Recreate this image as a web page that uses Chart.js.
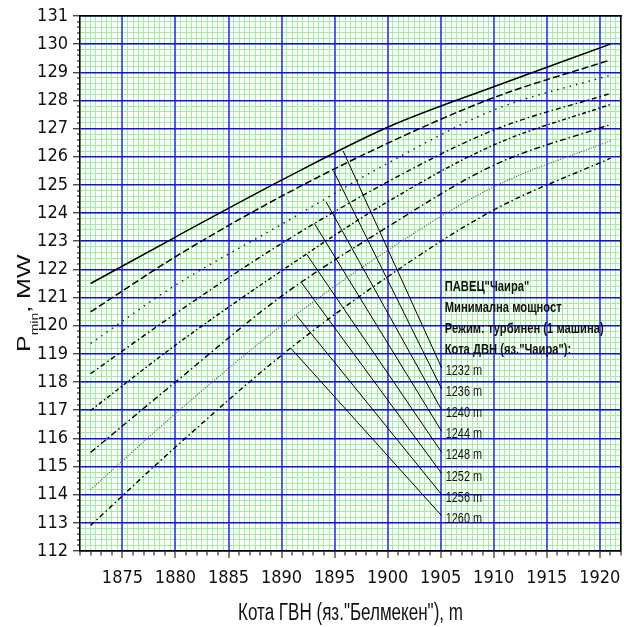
<!DOCTYPE html>
<html>
<head>
<meta charset="utf-8">
<script src="https://cdn.jsdelivr.net/npm/chart.js@4.4.1/dist/chart.umd.min.js"></script>
<style>
  body { margin: 0; background: #fff; }
  canvas { display: block; }
</style>
</head>
<body>
<canvas id="chart" width="624" height="627"></canvas>
<script>
// Кота ГВН (Белмекен), m - where the curves were read
const headX = [1872, 1880, 1890, 1900, 1910, 1921];

// P min, MW for each level of ДВН (Чаира)
const p1232 = [121.5, 123.15, 125.17, 127.05, 128.49, 130.0];
const p1236 = [120.49, 122.45, 124.6, 126.48, 128.1, 129.44];
const p1240 = [119.37, 121.44, 123.6, 125.77, 127.66, 128.9];
const p1244 = [118.3, 120.43, 122.92, 125.11, 126.95, 128.25];
const p1248 = [116.99, 119.31, 121.95, 124.4, 126.42, 127.86];
const p1252 = [115.5, 118.0, 121.05, 123.51, 125.7, 127.15];
const p1256 = [114.18, 116.88, 120.0, 122.68, 124.93, 126.57];
const p1260 = [112.91, 115.69, 118.95, 121.74, 124.11, 125.95];

const levels = [1232, 1236, 1240, 1244, 1248, 1252, 1256, 1260];
const series = [p1232, p1236, p1240, p1244, p1248, p1252, p1256, p1260];

// leader lines from each curve down to its label
const leaderFromX = [1895.8, 1894.9, 1894.2, 1893.1, 1892.4, 1891.9, 1891.4, 1890.9];
const leaderFromY = [126.21, 125.5, 124.4, 123.63, 122.52, 121.52, 120.37, 119.19];
const leaderToX = 1905.1;
const leaderToY = [118.5, 117.75, 117.0, 116.25, 115.5, 114.75, 114.0, 113.25];

const infoLines = ['ПАВЕЦ"Чаира"', 'Минимална мощност', 'Режим: турбинен (1 машина)', 'Кота ДВН (яз."Чаира"):'];
const xTitle = 'Кота ГВН (яз."Белмекен"), m';

// line look per curve
const dashes = [[], [7, 3], [1.5, 5], [5, 3, 1.5, 3], [4, 2.5, 1.5, 2.5], [6, 3, 1.5, 3], [1, 1.5], [5, 3, 1.5, 3]];
const colors = ['#000', '#000', '#222', '#000', '#000', '#000', '#555', '#000'];
const widths = [1.5, 1.5, 1.5, 1.4, 1.4, 1.4, 1.2, 1.4];

const narrow = '"Liberation Sans Narrow", "Arial Narrow", "DejaVu Sans Condensed", sans-serif';
const sans = '"Liberation Sans", Arial, sans-serif';

const isWhole = v => Math.abs(v - Math.round(v)) < 1e-6;
const isFive = v => isWhole(v / 5);

const datasets = [];
series.forEach((s, i) => {
  datasets.push({
    data: headX.map((x, j) => ({ x: x, y: s[j] })),
    borderColor: colors[i],
    borderWidth: widths[i],
    borderDash: dashes[i],
    cubicInterpolationMode: 'monotone',
    pointRadius: 0,
    fill: false
  });
});
levels.forEach((lv, i) => {
  datasets.push({
    data: [{ x: leaderFromX[i], y: leaderFromY[i] }, { x: leaderToX, y: leaderToY[i] }],
    borderColor: '#000',
    borderWidth: 1,
    pointRadius: 0,
    fill: false
  });
});

// squeezed text helper
function squeezed(ctx, text, x, y, sx, sy) {
  ctx.save();
  ctx.translate(x, y);
  ctx.scale(sx, sy);
  ctx.fillText(text, 0, 0);
  ctx.restore();
}

// axis titles and the text block are drawn on top
const textPlugin = {
  id: 'texts',
  afterDraw(chart) {
    const ctx = chart.ctx;
    const xs = chart.scales.x, ys = chart.scales.y;
    ctx.save();
    ctx.fillStyle = '#111';
    ctx.textBaseline = 'alphabetic';

    const px = xs.getPixelForValue(leaderToX) + 4;
    ctx.font = '14px ' + sans;
    levels.forEach((lv, i) => {
      squeezed(ctx, lv + ' m', px, ys.getPixelForValue(leaderToY[i]) + 7, 0.78, 1);
    });

    ctx.font = 'bold 14px ' + sans;
    const base0 = ys.getPixelForValue(leaderToY[0]) + 7;
    infoLines.forEach((t, i) => {
      squeezed(ctx, t, px - 1, base0 - (infoLines.length - i) * 21, 0.8, 1);
    });

    // x axis title
    ctx.font = '23px ' + sans;
    ctx.textAlign = 'center';
    squeezed(ctx, xTitle, (chart.chartArea.left + chart.chartArea.right) / 2, 620, 0.74, 1);

    // y axis title: P with subscript min
    ctx.textAlign = 'left';
    ctx.save();
    ctx.translate(30, 352);
    ctx.rotate(-Math.PI / 2);
    ctx.scale(1, 0.76);
    ctx.font = '25px ' + sans;
    ctx.fillText('P', 0, 0);
    let w = ctx.measureText('P').width;
    ctx.font = '14px ' + sans;
    ctx.fillText('min', w, 10);
    w += ctx.measureText('min').width;
    ctx.font = '25px ' + sans;
    ctx.fillText(', MW', w, 0);
    ctx.restore();

    ctx.restore();
  }
};

const tickFont = { family: narrow, size: 18 };
const minorGrid = { color: 'rgb(160,238,160)', lineWidth: 1, borderDash: [1, 2], drawTicks: false, z: -1 };

new Chart(document.getElementById('chart'), {
  type: 'line',
  data: { datasets: datasets },
  plugins: [textPlugin],
  options: {
    responsive: false,
    animation: false,
    events: [],
    layout: { padding: { left: 0, top: 16, right: 3, bottom: 0 } },
    plugins: { legend: { display: false }, tooltip: { enabled: false } },
    scales: {
      xg: {
        type: 'linear', position: 'bottom', min: 1871, max: 1922,
        border: { display: false },
        grid: minorGrid,
        ticks: { display: false, stepSize: 0.5 }
      },
      yg: {
        type: 'linear', position: 'left', min: 112, max: 131,
        border: { display: false },
        grid: minorGrid,
        ticks: { display: false, stepSize: 0.2 }
      },
      x: {
        type: 'linear', position: 'bottom', min: 1871, max: 1922,
        afterFit: s => { s.height = 76; s.paddingLeft = 0; s.paddingRight = 0; },
        border: { color: '#000', width: 1.5 },
        grid: {
          color: c => isFive(c.tick.value) ? 'rgba(60,60,255,0.85)' : 'rgba(0,0,0,0)',
          lineWidth: c => isFive(c.tick.value) ? 2 : 0,
          tickColor: '#000', tickWidth: 1, tickLength: 7,
          tickBorderDash: c => isFive(c.tick.value) ? [] : [4, 100]
        },
        ticks: {
          stepSize: 1, autoSkip: false, maxRotation: 0, padding: 10,
          color: '#111', font: tickFont,
          callback: v => isFive(v) ? String(v) : ''
        }
      },
      y: {
        type: 'linear', position: 'left', min: 112, max: 131,
        afterFit: s => { s.width = 80; },
        border: { color: '#000', width: 1.5 },
        grid: {
          color: c => isWhole(c.tick.value) ? '#1010e8' : 'rgba(0,0,0,0)',
          lineWidth: c => isWhole(c.tick.value) ? 1.6 : 0,
          tickColor: '#000', tickWidth: 1, tickLength: 7,
          tickBorderDash: c => isWhole(c.tick.value) ? [] : [0, 4, 3, 100]
        },
        ticks: {
          stepSize: 0.2, autoSkip: false, padding: 5,
          color: '#111', font: tickFont,
          callback: v => isWhole(v) ? String(Math.round(v)) : ''
        }
      },
      xt: {
        type: 'linear', position: 'top', min: 1871, max: 1922,
        border: { color: '#000', width: 1.5 },
        grid: { drawOnChartArea: false, drawTicks: false },
        ticks: { display: false }
      },
      yr: {
        type: 'linear', position: 'right', min: 112, max: 131,
        afterFit: s => { s.width = 0; },
        border: { color: '#000', width: 1.5 },
        grid: { drawOnChartArea: false, drawTicks: false },
        ticks: { display: false }
      }
    }
  }
});
</script>
</body>
</html>
